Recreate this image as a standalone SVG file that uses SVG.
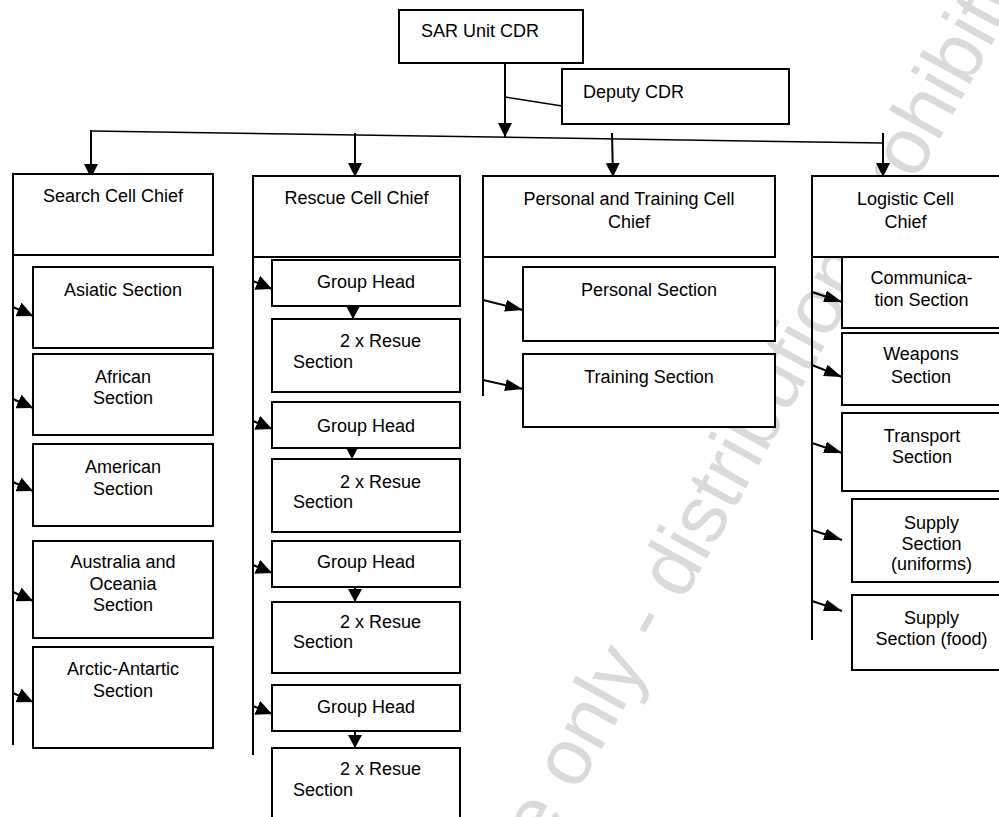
<svg xmlns="http://www.w3.org/2000/svg" width="999" height="817" viewBox="0 0 999 817">
<style>
.box{fill:#fff;stroke:#000;stroke-width:2}
.t{font-family:"Liberation Sans",Arial,sans-serif;font-size:18px;fill:#000}
.c{text-anchor:middle}
.ln{fill:none;stroke:#000;stroke-width:2}
.thin{fill:none;stroke:#000;stroke-width:1.5}
.wm{font-family:"Liberation Sans",Arial,sans-serif;font-size:80px;fill:#dadada}
</style>
<defs>
<marker id="big" markerUnits="userSpaceOnUse" markerWidth="14" markerHeight="14" refX="14" refY="7" orient="auto"><path d="M0,0 L14,7 L0,14 z" fill="#000"/></marker>
<marker id="side" markerUnits="userSpaceOnUse" markerWidth="16" markerHeight="15" refX="16" refY="7.5" orient="auto"><path d="M0,0 L16,7.5 L0,15 z" fill="#000"/></marker>
<marker id="long" markerUnits="userSpaceOnUse" markerWidth="18" markerHeight="12" refX="18" refY="6" orient="auto"><path d="M0,0 L18,6 L0,12 z" fill="#000"/></marker>
<marker id="gh" markerUnits="userSpaceOnUse" markerWidth="13" markerHeight="14" refX="13" refY="7" orient="auto"><path d="M0,0 L13,7 L0,14 z" fill="#000"/></marker>
</defs>
<rect width="999" height="817" fill="#fff"/>
<g id="watermark"><text class="wm" transform="translate(545,851) rotate(-61)">e only - distribution prohibited</text></g>

<g id="connectors">
<line class="ln" x1="505" y1="55" x2="505" y2="137" marker-end="url(#big)" stroke-width="2.5"/>
<line class="thin" x1="505" y1="97" x2="562" y2="106"/>
<line class="thin" x1="91" y1="131" x2="883" y2="143"/>
<line class="ln" x1="91" y1="130" x2="91" y2="178" marker-end="url(#big)"/>
<line class="ln" x1="355" y1="133" x2="355" y2="177" marker-end="url(#big)"/>
<line class="ln" x1="612" y1="133" x2="613" y2="177" marker-end="url(#big)"/>
<line class="ln" x1="883" y1="133" x2="883" y2="177" marker-end="url(#big)"/>
<line class="ln" x1="13" y1="220" x2="13" y2="745"/>
<line class="ln" x1="13" y1="307" x2="33" y2="316" marker-end="url(#side)"/>
<line class="ln" x1="13" y1="399" x2="33" y2="408" marker-end="url(#side)"/>
<line class="ln" x1="13" y1="482" x2="33" y2="491" marker-end="url(#side)"/>
<line class="ln" x1="13" y1="592" x2="33" y2="601" marker-end="url(#side)"/>
<line class="ln" x1="13" y1="693" x2="33" y2="702" marker-end="url(#side)"/>
<line class="ln" x1="253" y1="220" x2="253" y2="755"/>
<line class="ln" x1="253" y1="281" x2="272" y2="289" marker-end="url(#side)"/>
<line class="ln" x1="253" y1="421" x2="272" y2="429" marker-end="url(#side)"/>
<line class="ln" x1="253" y1="565" x2="272" y2="573" marker-end="url(#side)"/>
<line class="ln" x1="253" y1="706" x2="272" y2="714" marker-end="url(#side)"/>
<line class="ln" x1="353" y1="302" x2="353" y2="319" marker-end="url(#gh)"/>
<line class="ln" x1="352" y1="442" x2="352" y2="459" marker-end="url(#gh)"/>
<line class="ln" x1="355" y1="584" x2="355" y2="602" marker-end="url(#gh)"/>
<line class="ln" x1="355" y1="727" x2="355" y2="748" marker-end="url(#gh)"/>
<line class="ln" x1="483" y1="220" x2="483" y2="396"/>
<line class="ln" x1="483" y1="300" x2="523" y2="310" marker-end="url(#long)"/>
<line class="ln" x1="483" y1="380" x2="523" y2="389" marker-end="url(#long)"/>
<line class="ln" x1="812" y1="220" x2="812" y2="640"/>
<line class="ln" x1="812" y1="292" x2="842" y2="302" marker-end="url(#long)"/>
<line class="ln" x1="812" y1="365" x2="842" y2="377" marker-end="url(#long)"/>
<line class="ln" x1="812" y1="443" x2="842" y2="453" marker-end="url(#long)"/>
<line class="ln" x1="812" y1="530" x2="842" y2="540" marker-end="url(#long)"/>
<line class="ln" x1="812" y1="601" x2="842" y2="611" marker-end="url(#long)"/>
</g>

<g id="sar"><rect class="box" x="399" y="10" width="184" height="53"/><text class="t" x="421" y="37">SAR Unit CDR</text></g>
<g id="deputy"><rect class="box" x="562" y="69" width="227" height="55"/><text class="t" x="583" y="98">Deputy CDR</text></g>

<g id="search"><rect class="box" x="13" y="174" width="200" height="81"/><text class="t c" x="113" y="202">Search Cell Chief</text></g>
<g id="asiatic"><rect class="box" x="33" y="267" width="180" height="81"/><text class="t c" x="123" y="296">Asiatic Section</text></g>
<g id="african"><rect class="box" x="33" y="354" width="180" height="81"/><text class="t c" x="123" y="383">African</text><text class="t c" x="123" y="404">Section</text></g>
<g id="american"><rect class="box" x="33" y="444" width="180" height="82"/><text class="t c" x="123" y="473">American</text><text class="t c" x="123" y="495">Section</text></g>
<g id="australia"><rect class="box" x="33" y="541" width="180" height="97"/><text class="t c" x="123" y="568">Australia and</text><text class="t c" x="123" y="590">Oceania</text><text class="t c" x="123" y="611">Section</text></g>
<g id="arctic"><rect class="box" x="33" y="647" width="180" height="101"/><text class="t c" x="123" y="675">Arctic-Antartic</text><text class="t c" x="123" y="697">Section</text></g>

<g id="rescue"><rect class="box" x="253" y="176" width="207" height="81"/><text class="t c" x="356.5" y="204">Rescue Cell Chief</text></g>
<g id="gh1"><rect class="box" x="272" y="260" width="188" height="46"/><text class="t c" x="366" y="288">Group Head</text></g>
<g id="rs1"><rect class="box" x="272" y="319" width="188" height="73"/><text class="t" x="340" y="347">2 x Resue</text><text class="t" x="293" y="368">Section</text></g>
<g id="gh2"><rect class="box" x="272" y="402" width="188" height="46"/><text class="t c" x="366" y="432">Group Head</text></g>
<g id="rs2"><rect class="box" x="272" y="459" width="188" height="73"/><text class="t" x="340" y="488">2 x Resue</text><text class="t" x="293" y="508">Section</text></g>
<g id="gh3"><rect class="box" x="272" y="541" width="188" height="46"/><text class="t c" x="366" y="568">Group Head</text></g>
<g id="rs3"><rect class="box" x="272" y="602" width="188" height="71"/><text class="t" x="340" y="628">2 x Resue</text><text class="t" x="293" y="648">Section</text></g>
<g id="gh4"><rect class="box" x="272" y="685" width="188" height="46"/><text class="t c" x="366" y="713">Group Head</text></g>
<g id="rs4"><rect class="box" x="272" y="748" width="188" height="90"/><text class="t" x="340" y="775">2 x Resue</text><text class="t" x="293" y="796">Section</text></g>

<g id="personnel"><rect class="box" x="483" y="176" width="292" height="81"/><text class="t c" x="629" y="205">Personal and Training Cell</text><text class="t c" x="629" y="228">Chief</text></g>
<g id="personal"><rect class="box" x="523" y="267" width="252" height="74"/><text class="t c" x="649" y="296">Personal Section</text></g>
<g id="training"><rect class="box" x="523" y="354" width="252" height="73"/><text class="t c" x="649" y="383">Training Section</text></g>

<g id="logistic"><rect class="box" x="812" y="176" width="188" height="81"/><text class="t c" x="905.5" y="205">Logistic Cell</text><text class="t c" x="905.5" y="228">Chief</text></g>
<g id="comm"><rect class="box" x="842" y="257" width="162" height="71"/><text class="t c" x="921.5" y="284">Communica-</text><text class="t c" x="921.5" y="306">tion Section</text></g>
<g id="weapons"><rect class="box" x="842" y="333" width="162" height="72"/><text class="t c" x="921" y="360">Weapons</text><text class="t c" x="921" y="383">Section</text></g>
<g id="transport"><rect class="box" x="842" y="413" width="162" height="78"/><text class="t c" x="922" y="442">Transport</text><text class="t c" x="922" y="463">Section</text></g>
<g id="uniforms"><rect class="box" x="852" y="499" width="162" height="83"/><text class="t c" x="931.5" y="529">Supply</text><text class="t c" x="931.5" y="550">Section</text><text class="t c" x="931.5" y="570">(uniforms)</text></g>
<g id="food"><rect class="box" x="852" y="595" width="162" height="75"/><text class="t c" x="931.5" y="624">Supply</text><text class="t c" x="931.5" y="645">Section (food)</text></g>
</svg>
